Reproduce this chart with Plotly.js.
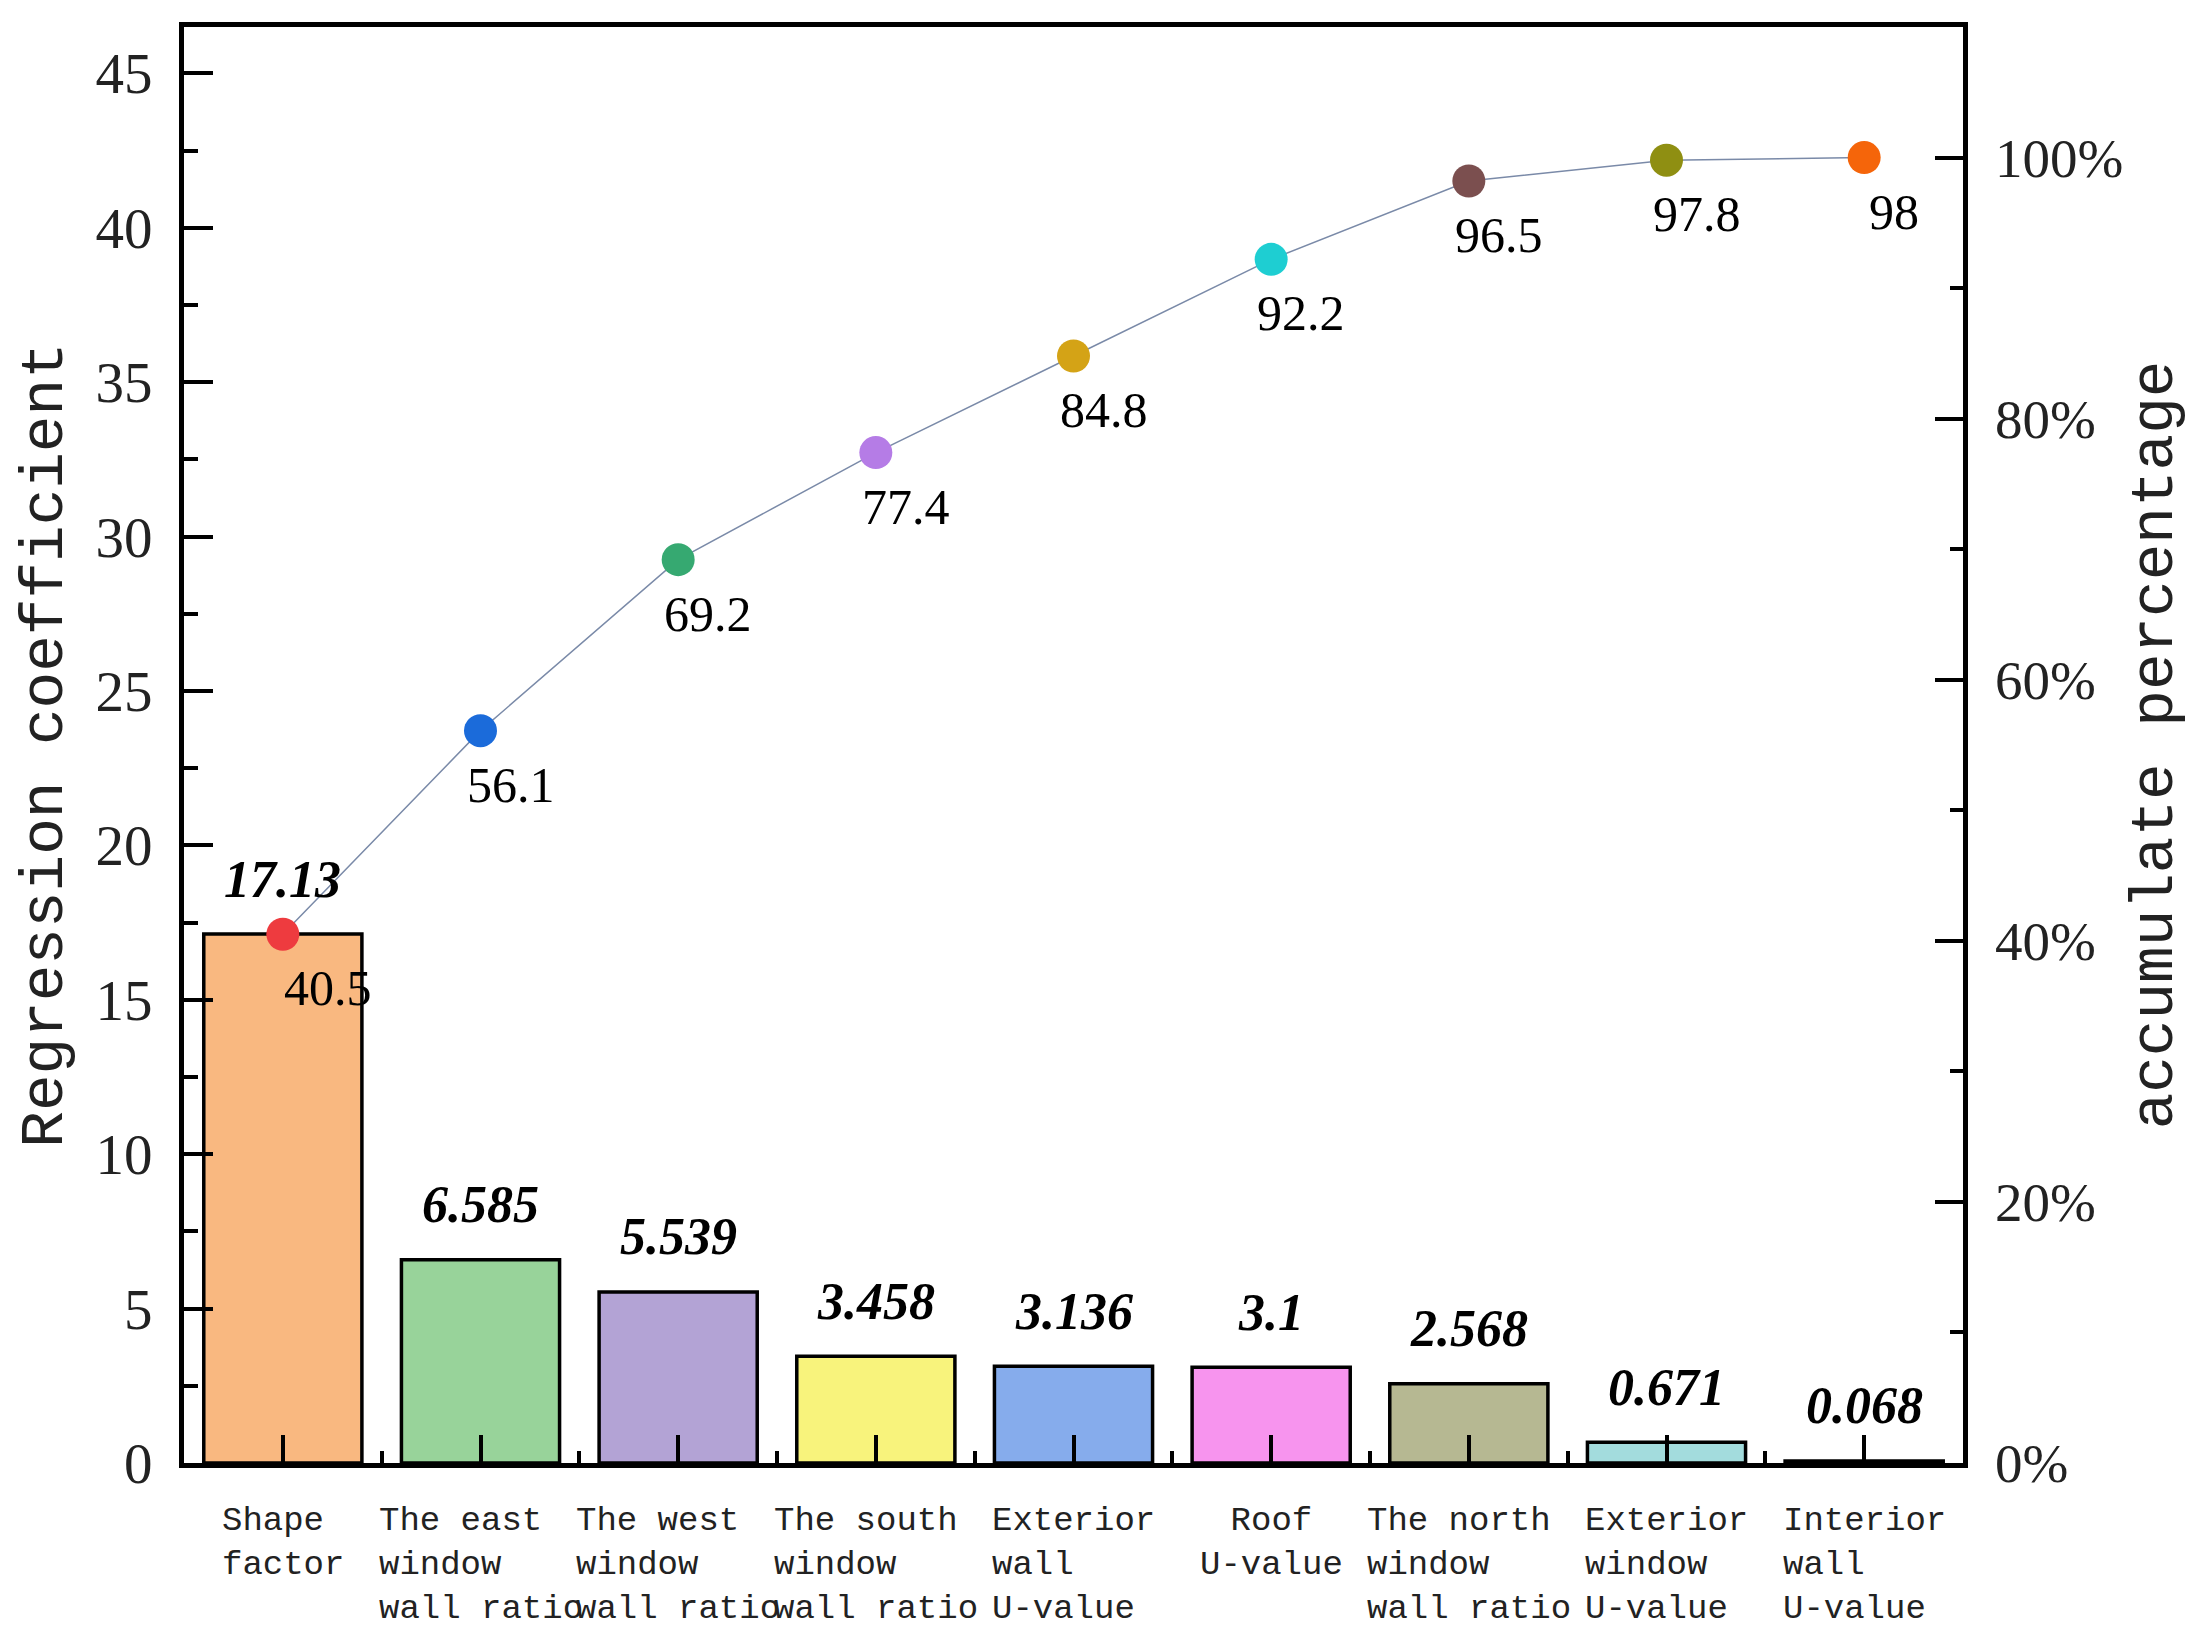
<!DOCTYPE html>
<html>
<head>
<meta charset="utf-8">
<script src="https://cdn.plot.ly/plotly-3.0.1.min.js"></script>
<style>html,body{margin:0;padding:0;background:#fff;}</style>
</head>
<body>
<div id="chart" style="width:2193px;height:1642px;"></div>
<script>
// ---- data ----
var categories = [
  "Shape<br>factor",
  "The east<br>window<br>wall ratio",
  "The west<br>window<br>wall ratio",
  "The south<br>window<br>wall ratio",
  "Exterior<br>wall<br>U-value",
  "Roof<br>U-value",
  "The north<br>window<br>wall ratio",
  "Exterior<br>window<br>U-value",
  "Interior<br>wall<br>U-value"
];
var coefficients = [17.13, 6.585, 5.539, 3.458, 3.136, 3.1, 2.568, 0.671, 0.068];
var coefLabels = ["17.13", "6.585", "5.539", "3.458", "3.136", "3.1", "2.568", "0.671", "0.068"];
var cumulative = [40.5, 56.1, 69.2, 77.4, 84.8, 92.2, 98.2, 99.8, 100];
var cumLabels = ["40.5", "56.1", "69.2", "77.4", "84.8", "92.2", "96.5", "97.8", "98"];
var barColors = ["#F9B880", "#98D39A", "#B3A3D5", "#F8F37C", "#86ACEC", "#F794EE", "#B6B892", "#A3DCDD", "#CCCCCC"];
var dotColors = ["#EE3B3F", "#1B6BDA", "#36A971", "#B57CE6", "#D4A316", "#1ECED2", "#7B4F4F", "#8F8F12", "#F5650A"];
var pctTicks = [0, 20, 40, 60, 80, 100];

var xs = categories.map(function (c, i) { return i; });

var serif = "Liberation Serif, Times New Roman, serif";
var mono = "Liberation Mono, DejaVu Sans Mono, monospace";

var traces = [
  {
    type: "bar",
    x: xs,
    y: coefficients,
    width: 0.8,
    marker: { color: barColors, line: { color: "#000", width: 3.5 } },
    hoverinfo: "none",
    yaxis: "y"
  },
  {
    type: "scatter",
    mode: "lines+markers",
    x: xs,
    y: cumulative,
    yaxis: "y2",
    line: { color: "#7A8AA8", width: 1.5 },
    marker: { color: dotColors, size: 33 },
    hoverinfo: "none"
  }
];

var annotations = [];
coefficients.forEach(function (v, i) {
  annotations.push({
    x: i, y: v, xref: "x", yref: "y",
    text: coefLabels[i], showarrow: false,
    xanchor: "center", yanchor: "middle", yshift: 55,
    font: { family: serif, size: 52, weight: "bold", style: "italic", color: "#000" }
  });
});
cumulative.forEach(function (v, i) {
  annotations.push({
    x: i, y: v, xref: "x", yref: "y2",
    text: cumLabels[i], showarrow: false,
    xanchor: "center", yanchor: "middle", xshift: (i === 0 ? 45 : 30), yshift: -54,
    font: { family: serif, size: 50, color: "#000" }
  });
});
categories.forEach(function (c, i) {
  annotations.push({
    x: i, y: 0, xref: "x", yref: "paper",
    text: c, showarrow: false,
    xanchor: "center", yanchor: "top", yshift: -37,
    align: (i === 5 ? "center" : "left"),
    font: { family: mono, size: 34, color: "#222" }
  });
});

var layout = {
  width: 2193,
  height: 1642,
  margin: { l: 184, r: 230, t: 27, b: 179 },
  paper_bgcolor: "#fff",
  plot_bgcolor: "#fff",
  showlegend: false,
  xaxis: {
    range: [-0.5, 8.5],
    tickmode: "linear", tick0: 0, dtick: 1,
    showticklabels: false,
    ticks: "inside", ticklen: 28, tickwidth: 4, tickcolor: "#000",
    minor: { tick0: 0.5, dtick: 1, ticks: "inside", ticklen: 12, tickwidth: 4, tickcolor: "#000" },
    showline: true, linewidth: 5, linecolor: "#000", mirror: true,
    showgrid: false, zeroline: false, fixedrange: true
  },
  yaxis: {
    range: [0, 46.5],
    tickmode: "linear", tick0: 0, dtick: 5,
    ticks: "inside", ticklen: 29, tickwidth: 4, tickcolor: "#000",
    minor: { dtick: 2.5, ticks: "inside", ticklen: 14, tickwidth: 4, tickcolor: "#000" },
    showline: true, linewidth: 5, linecolor: "#000",
    showgrid: false, zeroline: false,
    tickfont: { family: serif, size: 57, color: "#222" },
    ticklabelstandoff: 15,
    title: { text: "Regression coefficient", font: { family: mono, size: 61, color: "#222" }, standoff: 15 }
  },
  yaxis2: {
    overlaying: "y", side: "right",
    range: [0, 110],
    tickmode: "array", tickvals: pctTicks,
    ticktext: pctTicks.map(function (t) { return t + "%"; }),
    ticks: "inside", ticklen: 28, tickwidth: 4, tickcolor: "#000",
    minor: { dtick: 10, ticks: "inside", ticklen: 13, tickwidth: 4, tickcolor: "#000" },
    showline: true, linewidth: 5, linecolor: "#000",
    showgrid: false, zeroline: false,
    tickfont: { family: serif, size: 55, color: "#222" },
    ticklabelstandoff: 16,
    title: { text: "accumulate percentage", font: { family: mono, size: 61, color: "#222" }, standoff: 8 }
  },
  annotations: annotations
};

Plotly.newPlot("chart", traces, layout, { displayModeBar: false, staticPlot: true });
</script>
</body>
</html>
